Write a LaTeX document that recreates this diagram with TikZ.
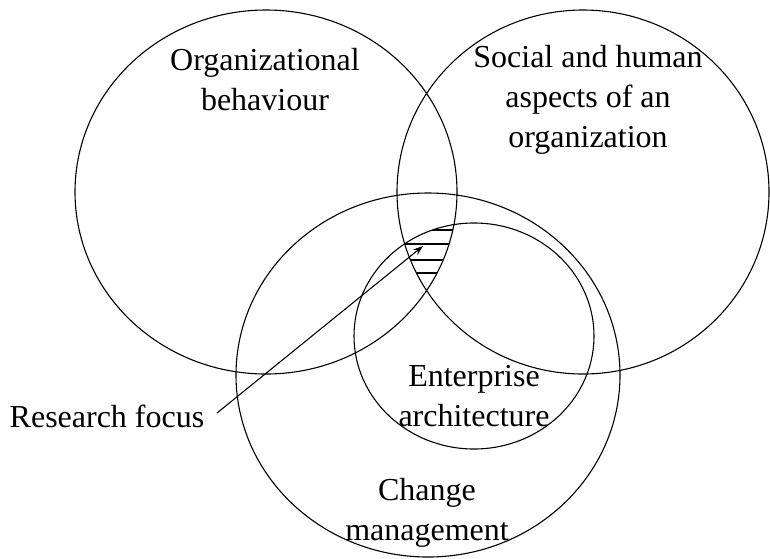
\documentclass[tikz,border=0pt]{standalone}
\usepackage{fontspec}
\setmainfont{Liberation Serif}
\usetikzlibrary{arrows.meta}
\begin{document}
\begin{tikzpicture}[x=1pt,y=-1pt,
  set/.style={line width=1.1pt},
  lbl/.style={inner sep=0pt,align=center,font=\fontsize{32}{40}\selectfont},
  hatch/.style={line width=2.2pt},
  pointer/.style={line width=1.1pt,-{Stealth[length=10pt,width=7pt]}}]
\useasboundingbox (0,0) rectangle (770,558);
% sets
\draw[set] (266,192) ellipse [x radius=191,y radius=182];
\draw[set] (583,192) ellipse [x radius=186,y radius=182];
\draw[set] (428,375) ellipse [x radius=192,y radius=182];
\draw[set] (474,336) ellipse [x radius=120,y radius=113];
% hatching of the research focus
\begin{scope}
  \clip (266,192) ellipse [x radius=191,y radius=182];
  \clip (583,192) ellipse [x radius=186,y radius=182];
  \clip (474,336) ellipse [x radius=120,y radius=113];
  \draw[hatch] (380,230) -- (470,230);
  \draw[hatch] (380,244) -- (470,244);
  \draw[hatch] (380,260) -- (470,260);
  \draw[hatch] (380,273) -- (470,273);
\end{scope}
% labels
\node[lbl] (ob) at (265,80) {Organizational\\behaviour};
\node[lbl] (sh) at (588,100) {Social and human\\aspects of an\\organization};
\node[lbl] (ea) at (474,396) {Enterprise\\architecture};
\node[lbl] (cm) at (427,513) {Change\\management};
\node[lbl] (rf) at (107,416) {Research focus};
% pointer
\coordinate (a0) at (217,413);
\coordinate (tip) at (423,246);
\draw[pointer] (a0) -- (tip);
\end{tikzpicture}
\end{document}
